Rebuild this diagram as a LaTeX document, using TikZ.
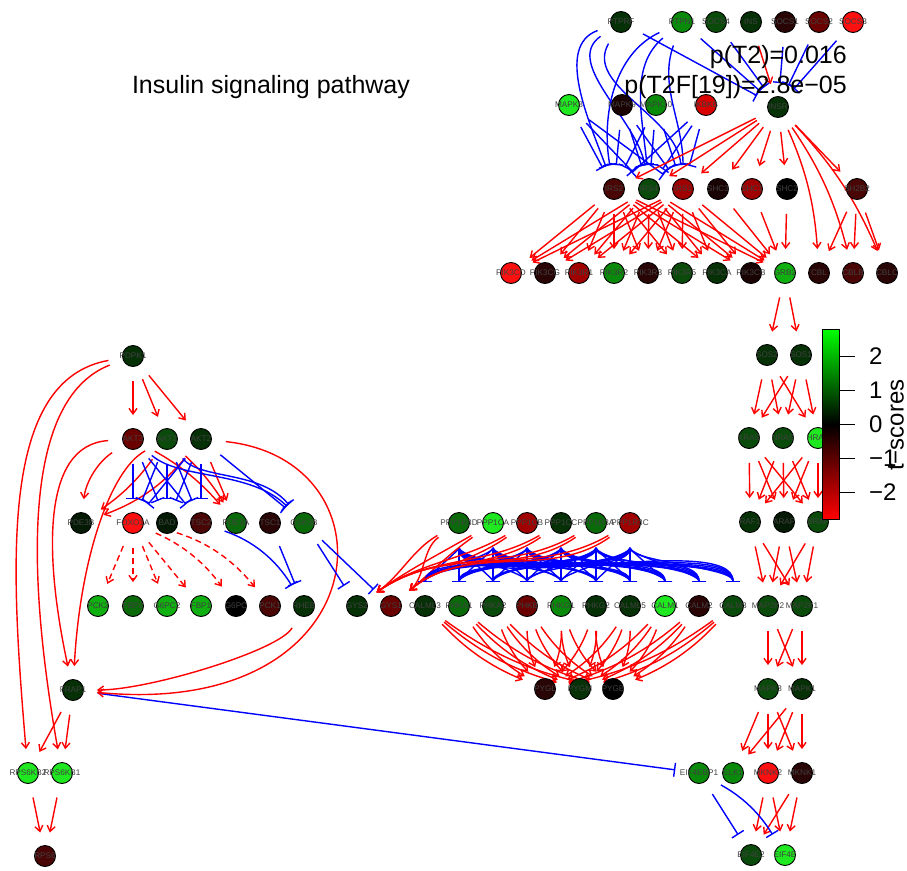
\documentclass[tikz,border=0pt]{standalone}
\usepackage{fontspec}
\setmainfont{Liberation Sans}
\usetikzlibrary{arrows.meta}
\pgfdeclarelayer{bg}
\pgfsetlayers{bg,main}
\definecolor{g1}{HTML}{041A04}
\definecolor{g2}{HTML}{063006}
\definecolor{g3}{HTML}{0A4A0A}
\definecolor{g4}{HTML}{0A6A0A}
\definecolor{g5}{HTML}{0A8A0A}
\definecolor{g6}{HTML}{10B010}
\definecolor{g7}{HTML}{20E820}
\definecolor{r1}{HTML}{1A0303}
\definecolor{r2}{HTML}{2A0505}
\definecolor{r3}{HTML}{4A0505}
\definecolor{r4}{HTML}{6A0000}
\definecolor{r5}{HTML}{A00000}
\definecolor{r6}{HTML}{D80000}
\definecolor{r7}{HTML}{FF1010}
\definecolor{kk}{HTML}{000000}
\definecolor{pured}{HTML}{FF0000}
\definecolor{pureblue}{HTML}{0000FF}
\definecolor{puregreen}{HTML}{00FF00}
\newcommand\gn[3]{\node[gene,fill=#3,label={[lbl]center:#1}] (#1) at (#2) {};}
\begin{document}
\begin{tikzpicture}[x=1pt,y=-1pt,
 gene/.style={circle,draw=black,line width=0.9pt,minimum size=21pt,inner sep=0pt},
 lbl/.style={font=\fontsize{8.2}{8.2}\selectfont,text=black!75,inner sep=0pt},
 act/.style={draw=pured,line width=1.4pt,-{Straight Barb[length=5.5pt,width=8pt]},shorten <=14pt,shorten >=13pt},
 inh/.style={draw=pureblue,line width=1.4pt,-{Bar[width=14pt,line width=1.4pt]},shorten <=14pt,shorten >=13pt},
 expr/.style={act,dash pattern=on 6pt off 4pt},
 big/.style={font=\fontsize{25}{25}\selectfont,inner sep=0pt},
]
\begin{pgfonlayer}{bg}
\fill[white] (0,0) rectangle (907,870);
\end{pgfonlayer}
\useasboundingbox (0,0) rectangle (907,870);

% texts
\node[big] (title) at (271,87) {Insulin signaling pathway};
\node[big,anchor=east] (p1) at (847,57) {p(T2)=0.016};
\node[big,anchor=east] (p2) at (847,87) {p(T2F[19])=2.8e−05};

% nodes: top
\gn{PTPRF}{621,22}{g2}
\gn{PTPN1}{682,22}{g5}
\gn{SOCS4}{716,22}{g3}
\gn{INS}{751,22}{g2}
\gn{SOCS1}{785,22}{r2}
\gn{SOCS2}{819,22}{r4}
\gn{SOCS3}{853,22}{r7}
\gn{MAPK8}{569,105}{g7}
\gn{MAPK9}{622,105}{r1}
\gn{MAPK10}{656,105}{g5}
\gn{IKBKB}{706,105}{r6}
\gn{INSR}{778,107}{g2}
\gn{IRS2}{614,189}{r3}
\gn{IRS4}{649,189}{g3}
\gn{IRS1}{683,189}{r5}
\gn{SHC3}{718,189}{r1}
\gn{SHC1}{752,189}{r5}
\gn{SHC2}{787,189}{kk}
\gn{SH2B2}{857,189}{r3}
\gn{PIK3CD}{511,273}{r7}
\gn{PIK3CG}{545,273}{r2}
\gn{PIK3R1}{579,273}{r5}
\gn{PIK3R2}{614,273}{g5}
\gn{PIK3R3}{648,273}{r2}
\gn{PIK3R5}{682,273}{g3}
\gn{PIK3CA}{717,273}{g2}
\gn{PIK3CB}{751,273}{r1}
\gn{GRB2}{785,273}{g6}
\gn{CBL}{819,273}{r2}
\gn{CBLB}{853,273}{r3}
\gn{CBLC}{887,273}{r2}
% right column
\gn{SOS2}{767,355}{g2}
\gn{SOS1}{801,355}{g2}
\gn{KRAS}{749,438}{g3}
\gn{NRAS}{783,438}{g3}
\gn{HRAS}{818,438}{g7}
\gn{RAF1}{750,522}{g2}
\gn{ARAF}{784,522}{g1}
\gn{BRAF}{818,522}{g3}
\gn{MAP2K2}{768,606}{g3}
\gn{MAP2K1}{802,606}{g3}
\gn{MAPK3}{768,689}{g3}
\gn{MAPK1}{802,689}{g2}
\gn{EIF4EBP1}{699,773}{g5}
\gn{ELK1}{733,773}{g5}
\gn{MKNK2}{768,773}{r7}
\gn{MKNK1}{802,773}{r2}
\gn{EIF4E2}{751,855}{g3}
\gn{EIF4E}{785,855}{g7}
% left
\gn{PDPK1}{133,356}{g2}
\gn{AKT3}{133,439}{r4}
\gn{AKT1}{167,439}{g3}
\gn{AKT2}{201,439}{g2}
\gn{PDE3B}{81,523}{g1}
\gn{FOXO1A}{133,523}{r7}
\gn{BAD}{167,523}{g1}
\gn{TSC2}{201,523}{r3}
\gn{PDE3A}{236,523}{g4}
\gn{TSC1}{270,523}{r2}
\gn{GSK3B}{304,523}{g4}
\gn{PCK2}{98,606}{g6}
\gn{FBP2}{133,606}{g4}
\gn{G6PC2}{167,606}{g6}
\gn{FBP1}{201,606}{g6}
\gn{G6PC}{236,606}{kk}
\gn{PCK1}{270,606}{r3}
\gn{RHEB}{304,606}{g2}
\gn{GYS2}{357,606}{g2}
\gn{GYS1}{391,606}{r4}
\gn{FRAP1}{73,690}{g2}
\gn{RPS6KB2}{28,773}{g7}
\gn{RPS6KB1}{62,773}{g7}
\gn{RPS6}{45,856}{r3}
% middle
\gn{PPP1R3D}{459,523}{g4}
\gn{PPP1CA}{493,523}{g7}
\gn{PPP1CB}{527,523}{r5}
\gn{PPP1CC}{561,523}{g2}
\gn{PPP1R3A}{596,523}{g4}
\gn{PPP1R3C}{630,523}{r5}
\gn{CALML3}{425,606}{g2}
\gn{PHKA1}{459,606}{g4}
\gn{PHKA2}{493,606}{g3}
\gn{PHKB}{527,606}{r4}
\gn{PHKG1}{561,606}{g5}
\gn{PHKG2}{596,606}{g2}
\gn{CALML5}{630,606}{g2}
\gn{CALM1}{665,606}{g7}
\gn{CALM2}{699,606}{r2}
\gn{CALM3}{733,606}{g3}
\gn{PYGL}{545,689}{r2}
\gn{PYGM}{580,689}{g2}
\gn{PYGB}{613,689}{kk}

\begin{pgfonlayer}{bg}
% ---- top block
\draw[act] (INS) -- (INSR);
\foreach \s in {PTPRF,PTPN1,SOCS4,SOCS1,SOCS2,SOCS3} \draw[inh] (\s) -- (INSR);
\draw[inh] (PTPRF) to[out=200,in=110] (IRS2);
\draw[inh] (PTPRF) to[out=215,in=100] (IRS4);
\draw[inh] (PTPRF) to[out=240,in=95] (IRS1);
\draw[inh] (PTPN1) to[out=205,in=100] (IRS2);
\draw[inh] (PTPN1) to[out=220,in=95] (IRS4);
\draw[inh] (PTPN1) to[out=250,in=90] (IRS1);
\foreach \s in {MAPK8,MAPK9,MAPK10,IKBKB} \foreach \t in {IRS2,IRS4,IRS1} \draw[inh] (\s) -- (\t);
\foreach \t in {IRS2,IRS4,IRS1,SHC3,SHC1,SHC2,SH2B2} \draw[act] (INSR) -- (\t);
\foreach \t in {CBL,CBLB,CBLC} \draw[act] (INSR) to[bend left=10] (\t);
\foreach \s in {IRS2,IRS4,IRS1} \foreach \t in {PIK3CD,PIK3CG,PIK3R1,PIK3R2,PIK3R3,PIK3R5,PIK3CA,PIK3CB,GRB2} \draw[act] (\s) -- (\t);
\foreach \s in {SHC3,SHC1,SHC2} \draw[act] (\s) -- (GRB2);
\foreach \t in {CBL,CBLB,CBLC} \draw[act] (SH2B2) -- (\t);
% ---- right column
\foreach \t in {SOS2,SOS1} \draw[act] (GRB2) -- (\t);
\foreach \s in {SOS2,SOS1} \foreach \t in {KRAS,NRAS,HRAS} \draw[act] (\s) -- (\t);
\foreach \s in {KRAS,NRAS,HRAS} \foreach \t in {RAF1,ARAF,BRAF} \draw[act] (\s) -- (\t);
\foreach \s in {RAF1,ARAF,BRAF} \foreach \t in {MAP2K2,MAP2K1} \draw[act] (\s) -- (\t);
\foreach \s in {MAP2K2,MAP2K1} \foreach \t in {MAPK3,MAPK1} \draw[act] (\s) -- (\t);
\foreach \s in {MAPK3,MAPK1} \foreach \t in {ELK1,MKNK2,MKNK1} \draw[act] (\s) -- (\t);
\foreach \s in {MKNK2,MKNK1} \foreach \t in {EIF4E2,EIF4E} \draw[act] (\s) -- (\t);
\draw[inh] (EIF4EBP1) -- (EIF4E2);
\draw[inh] (EIF4EBP1) to[bend left=15] (EIF4E);
\draw[inh] (FRAP1) -- (EIF4EBP1);
% ---- left block
\foreach \t in {AKT3,AKT1,AKT2} \draw[act] (PDPK1) -- (\t);
\draw[act] (PDPK1) .. controls (0,380) and (10,560) .. (RPS6KB2);
\draw[act] (PDPK1) .. controls (20,400) and (28,580) .. (RPS6KB1);
\draw[act] (AKT3) .. controls (40,445) and (45,560) .. (FRAP1);
\draw[act] (AKT1) .. controls (110,470) and (80,560) .. (FRAP1);
\draw[act] (AKT2) .. controls (400,460) and (380,720) .. (FRAP1);
\draw[act] (RHEB) .. controls (280,650) and (150,690) .. (FRAP1);
\draw[act] (AKT3) to[bend right=25] (PDE3B);
\draw[act] (AKT1) to[bend left=10] (PDE3B);
\draw[act] (AKT2) to[bend left=15] (PDE3B);
\draw[act] (AKT3) to[bend left=10] (PDE3A);
\draw[act] (AKT1) to[bend left=8] (PDE3A);
\draw[act] (AKT2) -- (PDE3A);
\foreach \s in {AKT3,AKT1,AKT2} \foreach \t in {FOXO1A,BAD,TSC2} \draw[inh] (\s) -- (\t);
\draw[inh] (AKT2) -- (GSK3B);
\draw[inh] (AKT3) .. controls (180,480) and (250,470) .. (GSK3B);
\draw[inh] (AKT1) .. controls (200,480) and (260,470) .. (GSK3B);
\foreach \t in {PCK2,FBP2,G6PC2,FBP1} \draw[expr] (FOXO1A) -- (\t);
\draw[expr] (FOXO1A) to[bend left=15] (G6PC);
\draw[expr] (FOXO1A) to[bend left=20] (PCK1);
\draw[inh] (TSC2) to[bend left=20] (RHEB);
\draw[inh] (TSC1) -- (RHEB);
\draw[inh] (GSK3B) -- (GYS2);
\draw[inh] (GSK3B) -- (GYS1);
\foreach \t in {RPS6KB2,RPS6KB1} \draw[act] (FRAP1) -- (\t);
\foreach \s in {RPS6KB2,RPS6KB1} \draw[act] (\s) -- (RPS6);
% ---- middle block
\foreach \s in {PPP1R3D,PPP1CA,PPP1CB,PPP1CC,PPP1R3A,PPP1R3C} {
  \foreach \t in {CALML3,PHKA1,PHKA2,PHKB,PHKG1,PHKG2,CALML5,CALM1,CALM2,CALM3}
    \draw[inh] (\s) to[out=-90,in=90,looseness=0.6] (\t);
  \draw[act] (\s) to[out=210,in=35] (GYS2);
  \draw[act] (\s) to[out=215,in=40] (GYS1);
}
\foreach \s in {CALML3,PHKA1,PHKA2,PHKB} \draw[act] (\s) to[bend right=12] (PYGL);
\foreach \s in {PHKG1,PHKG2,CALML5,CALM1,CALM2,CALM3} \draw[act] (\s) to[bend left=12] (PYGL);
\foreach \s in {CALML3,PHKA1,PHKA2,PHKB,PHKG1} \draw[act] (\s) to[bend right=12] (PYGM);
\foreach \s in {PHKG2,CALML5,CALM1,CALM2,CALM3} \draw[act] (\s) to[bend left=12] (PYGM);
\foreach \s in {CALML3,PHKA1,PHKA2,PHKB,PHKG1,PHKG2} \draw[act] (\s) to[bend right=12] (PYGB);
\foreach \s in {CALML5,CALM1,CALM2,CALM3} \draw[act] (\s) to[bend left=12] (PYGB);
\end{pgfonlayer}

% ---- colour key
\shade[top color=puregreen,bottom color=black] (822,329) rectangle (839,424);
\shade[top color=black,bottom color=pured] (822,424) rectangle (839,519);
\draw[black,line width=1pt] (822,329) rectangle (839,519);
\foreach \v/\y in {2/356,1/390,0/424,−1/458,−2/492} {
  \draw[black,line width=1pt] (839,\y) -- (855,\y);
  \node[font=\fontsize{24}{24}\selectfont,anchor=west,inner sep=0pt] at (869,\y) {\v};
}
\node[font=\fontsize{24}{24}\selectfont,rotate=90,inner sep=0pt] (key) at (896,425) {t−scores};
\end{tikzpicture}
\end{document}
